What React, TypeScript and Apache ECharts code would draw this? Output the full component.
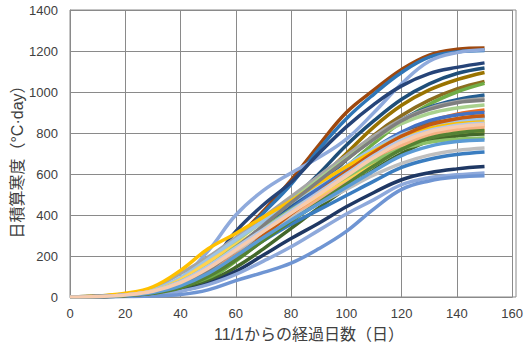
import React, { useEffect, useRef } from "react";
import * as echarts from "echarts";

// Days elapsed since 11/1, sampled every 10 days
const days = [0, 10, 20, 30, 40, 50, 60, 70, 80, 90, 100, 110, 120, 130, 140, 150];

// Cumulative freezing index (°C·day) per site/season
const s01 = [0, 4, 12, 30, 70, 150, 280, 420, 570, 740, 900, 1010, 1110, 1180, 1208, 1215];
const s02 = [0, 3, 10, 28, 65, 145, 270, 410, 550, 720, 870, 990, 1095, 1170, 1195, 1202];
const s03 = [0, 5, 15, 35, 90, 225, 400, 520, 605, 680, 770, 900, 1040, 1150, 1192, 1206];
const s04 = [0, 3, 10, 25, 60, 150, 320, 450, 560, 700, 830, 940, 1030, 1090, 1120, 1142];
const s05 = [0, 3, 8, 22, 50, 110, 210, 340, 470, 600, 740, 860, 965, 1040, 1090, 1117];
const s06 = [0, 2, 8, 20, 45, 100, 200, 320, 440, 570, 700, 830, 935, 1010, 1060, 1095];
const s07 = [0, 2, 7, 18, 40, 95, 190, 300, 420, 540, 670, 790, 885, 960, 1015, 1052];
const s08 = [0, 2, 6, 16, 35, 85, 175, 280, 390, 510, 635, 750, 855, 940, 1000, 1042];
const s09 = [0, 3, 9, 22, 50, 115, 215, 330, 440, 550, 670, 775, 865, 925, 962, 985];
const s10 = [0, 4, 14, 45, 115, 195, 290, 390, 490, 590, 690, 785, 865, 920, 952, 968];
const s11 = [0, 3, 10, 30, 80, 165, 270, 370, 470, 575, 675, 770, 845, 895, 922, 937];
const s12 = [0, 2, 8, 22, 60, 125, 220, 320, 420, 520, 620, 715, 795, 855, 892, 912];
const s13 = [0, 3, 10, 25, 65, 135, 230, 330, 430, 530, 630, 725, 805, 860, 888, 900];
const s14 = [0, 2, 7, 20, 50, 110, 205, 305, 405, 505, 605, 705, 790, 842, 868, 880];
const s15 = [0, 4, 12, 35, 95, 185, 280, 370, 460, 550, 640, 725, 792, 832, 856, 868];
const s16 = [0, 5, 18, 50, 130, 235, 310, 390, 470, 555, 635, 712, 780, 822, 845, 854];
const s17 = [0, 2, 8, 20, 55, 120, 205, 305, 400, 490, 580, 670, 750, 800, 825, 835];
const s18 = [0, 2, 6, 18, 50, 105, 185, 285, 385, 475, 565, 655, 738, 790, 815, 824];
const s19 = [0, 3, 10, 30, 85, 170, 255, 335, 415, 495, 575, 655, 722, 772, 800, 810];
const s20 = [0, 2, 6, 15, 35, 75, 145, 235, 335, 435, 530, 620, 700, 760, 785, 795];
const s21 = [0, 3, 10, 28, 75, 150, 245, 335, 425, 505, 585, 662, 722, 755, 770, 776];
const s22 = [0, 3, 10, 28, 70, 140, 225, 305, 385, 455, 525, 595, 652, 692, 715, 727];
const s23 = [0, 2, 8, 22, 55, 110, 190, 275, 355, 425, 495, 565, 632, 672, 695, 707];
const s24 = [0, 2, 5, 12, 30, 65, 125, 205, 285, 360, 440, 510, 572, 606, 625, 636];
const s25 = [0, 2, 5, 10, 28, 60, 110, 175, 245, 325, 405, 475, 548, 582, 596, 605];
const s26 = [0, 0, 2, 5, 12, 35, 80, 120, 165, 235, 320, 430, 525, 566, 585, 592];
const s27 = [0, 3, 9, 26, 60, 130, 240, 350, 460, 565, 670, 770, 860, 915, 948, 960];
const s28 = [0, 2, 7, 20, 48, 105, 195, 300, 405, 510, 610, 705, 785, 840, 870, 884];
const s29 = [0, 3, 10, 30, 75, 150, 240, 330, 420, 510, 600, 690, 765, 812, 838, 848];
const s30 = [0, 2, 6, 18, 45, 100, 180, 275, 370, 460, 550, 640, 720, 775, 800, 812];
const s31 = [0, 2, 8, 22, 55, 115, 200, 290, 375, 455, 535, 615, 690, 735, 758, 766];
const s32 = [0, 3, 10, 28, 70, 140, 230, 320, 410, 500, 590, 680, 755, 805, 830, 842];

const seriesValues = [
  s01, s02, s03, s04, s05, s06, s07, s08, s09, s10, s11, s12, s13, s14, s15, s16,
  s17, s18, s19, s20, s21, s22, s23, s24, s25, s26, s27, s28, s29, s30, s31, s32,
];

const seriesColors = [
  "#9E480E", "#2E75B6", "#8FAADC", "#264478", "#1F4E79", "#997300",
  "#8C6D1F", "#70AD47", "#255E91", "#A5A5A5", "#A9D18E", "#E46C26",
  "#4472C4", "#636363", "#9DC3E6", "#FFC000", "#F1975A", "#F4B183",
  "#FFD34F", "#43682B", "#8CC168", "#BFBFBF", "#3A7DC0", "#1F3864",
  "#8EA9DB", "#6F95D3", "#7F7F7F", "#C55A11", "#B4C7E7", "#548235",
  "#5B9BD5", "#F8CBAD",
];

const xTicks = { min: 0, max: 160, interval: 20 };
const yTicks = { min: 0, max: 1400, interval: 200 };

const xTitle = "11/1からの経過日数（日）";
const yTitle = "日積算寒度（°C·day）";

const FONT = "'Liberation Sans', Arial, 'Noto Sans CJK JP', sans-serif";

export default function App() {
  const ref = useRef<HTMLDivElement>(null);

  useEffect(() => {
    if (!ref.current) return;
    const chart = echarts.init(ref.current, null, { renderer: "svg" });

    const gridColor = "#8A8A8A";
    const textColor = "#404040";

    chart.setOption({
      animation: false,
      backgroundColor: "#ffffff",
      grid: { left: 70, right: 10, top: 10, bottom: 58, containLabel: false },
      xAxis: {
        type: "value",
        min: xTicks.min,
        max: xTicks.max,
        interval: xTicks.interval,
        axisLine: { show: true, lineStyle: { color: gridColor, width: 1 } },
        axisTick: { show: false },
        axisLabel: {
          color: textColor,
          fontSize: 13,
          fontFamily: FONT,
          margin: 10,
          formatter: (v: number) => String(v),
        },
        splitLine: { show: true, lineStyle: { color: gridColor, width: 1 } },
      },
      yAxis: {
        type: "value",
        min: yTicks.min,
        max: yTicks.max,
        interval: yTicks.interval,
        axisLine: { show: true, lineStyle: { color: gridColor, width: 1 } },
        axisTick: { show: false },
        axisLabel: {
          color: textColor,
          fontSize: 13,
          fontFamily: FONT,
          margin: 12,
          formatter: (v: number) => String(v),
        },
        splitLine: { show: true, lineStyle: { color: gridColor, width: 1 } },
      },
      graphic: [
        {
          type: "rect",
          shape: { x: 70, y: 10, width: 446, height: 287 },
          style: { fill: "none", stroke: gridColor, lineWidth: 1 },
          silent: true,
          z: 0,
        },
        {
          type: "text",
          x: 309,
          y: 334,
          style: {
            text: xTitle,
            fontSize: 16,
            fontFamily: FONT,
            fill: textColor,
            align: "center",
            verticalAlign: "middle",
          },
        },
        {
          type: "text",
          x: 17,
          y: 158,
          rotation: Math.PI / 2,
          style: {
            text: yTitle,
            fontSize: 16,
            fontFamily: FONT,
            fill: textColor,
            align: "center",
            verticalAlign: "middle",
          },
        },
      ],
      series: seriesValues.map((vals, i) => ({
        type: "line",
        name: `S${i + 1}`,
        data: vals.map((v, j) => [days[j], v]),
        showSymbol: false,
        smooth: 0.4,
        lineStyle: { color: seriesColors[i], width: 3.5 },
        itemStyle: { color: seriesColors[i] },
        silent: true,
      })),
    });

    return () => chart.dispose();
  }, []);

  return (
    <div
      ref={ref}
      style={{ position: "fixed", left: 0, top: 0, width: 526, height: 355 }}
    />
  );
}
